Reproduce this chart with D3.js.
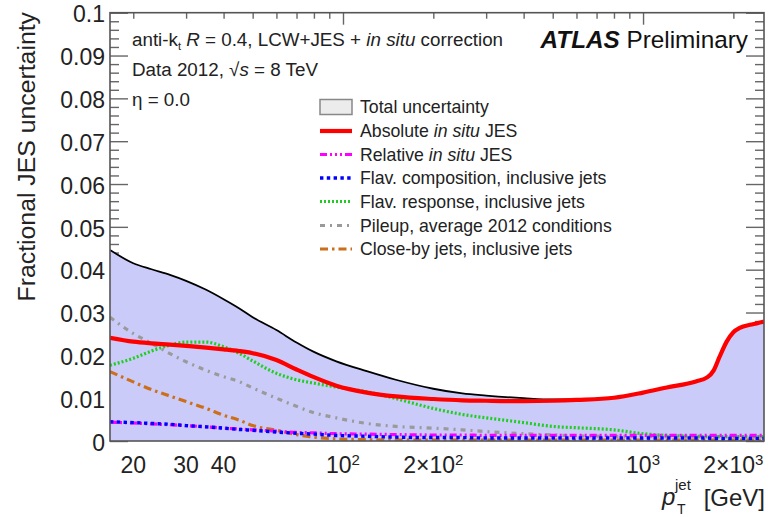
<!DOCTYPE html>
<html>
<head>
<meta charset="utf-8">
<script src="https://cdn.jsdelivr.net/npm/d3@7"></script>
<style>
  html, body { margin: 0; padding: 0; background: #fff; }
  svg { display: block; font-family: 'Liberation Sans', Arial, Helvetica, sans-serif; }
</style>
</head>
<body>
<svg id="chart" width="774" height="517"></svg>
<script>
// ---- data ----
const ptGrid = [16.73, 20, 23, 26.5, 30, 35, 40, 45, 50, 60, 70, 80, 95, 120, 150, 200, 250, 300, 400, 500, 600, 800, 1000, 1200, 1500, 1640, 1720, 1800, 1900, 2000, 2100, 2300, 2530];
const totalUnc = [0.0446, 0.0415, 0.0401, 0.0388, 0.0374, 0.0353, 0.0331, 0.0310, 0.0289, 0.0259, 0.0230, 0.0208, 0.0186, 0.0163, 0.0143, 0.0122, 0.0111, 0.0106, 0.0100, 0.0097, 0.0097, 0.0101, 0.0113, 0.0125, 0.0139, 0.0149, 0.0165, 0.0197, 0.0232, 0.0254, 0.0264, 0.0272, 0.0279];
const absoluteInSitu = [0.0241, 0.0232, 0.0228, 0.0225, 0.0222, 0.0218, 0.0214, 0.0210, 0.0205, 0.0189, 0.0167, 0.0149, 0.0129, 0.0113, 0.0104, 0.0098, 0.0095, 0.0094, 0.0093, 0.0094, 0.0096, 0.0101, 0.0113, 0.0125, 0.0139, 0.0149, 0.0165, 0.0197, 0.0232, 0.0254, 0.0264, 0.0272, 0.0279];
const relativeInSitu = [0.0044, 0.0042, 0.0040, 0.0038, 0.0036, 0.0033, 0.0030, 0.0028, 0.0026, 0.0023, 0.0020, 0.0019, 0.0017, 0.0016, 0.0015, 0.0014, 0.0014, 0.0013, 0.0013, 0.0013, 0.0013, 0.0013, 0.0013, 0.0013, 0.0013, 0.0013, 0.0013, 0.0013, 0.0013, 0.0013, 0.0013, 0.0013, 0.0013];
const flavComposition = [0.0045, 0.0043, 0.0041, 0.0039, 0.0036, 0.0033, 0.0030, 0.0027, 0.0025, 0.0021, 0.0018, 0.0016, 0.0013, 0.0011, 0.0009, 0.0008, 0.0008, 0.0007, 0.0007, 0.0007, 0.0007, 0.0007, 0.0007, 0.0007, 0.0007, 0.0007, 0.0006, 0.0006, 0.0006, 0.0006, 0.0006, 0.0006, 0.0006];
const flavResponse = [0.0177, 0.0193, 0.0210, 0.0224, 0.0231, 0.0231, 0.0220, 0.0205, 0.0187, 0.0158, 0.0143, 0.0135, 0.0126, 0.0115, 0.0099, 0.0076, 0.0062, 0.0054, 0.0043, 0.0034, 0.0031, 0.0026, 0.0017, 0.0013, 0.0011, 0.0010, 0.0010, 0.0010, 0.0010, 0.0010, 0.0010, 0.0010, 0.0010];
const pileup = [0.0289, 0.0251, 0.0228, 0.0204, 0.0185, 0.0165, 0.0150, 0.0139, 0.0124, 0.0100, 0.0081, 0.0066, 0.0054, 0.0041, 0.0034, 0.0030, 0.0026, 0.0022, 0.0017, 0.0014, 0.0012, 0.0011, 0.0011, 0.0010, 0.0010, 0.0010, 0.0010, 0.0010, 0.0010, 0.0010, 0.0010, 0.0010, 0.0010];
const closeBy = [0.0162, 0.0138, 0.0120, 0.0105, 0.0092, 0.0076, 0.0060, 0.0049, 0.0036, 0.0025, 0.0015, 0.0009, 0.0005, 0.0003, 0.0002, 0.0002, 0.0002, 0.0002, 0.0002, 0.0002, 0.0002, 0.0002, 0.0002, 0.0002, 0.0002, 0.0002, 0.0002, 0.0002, 0.0002, 0.0002, 0.0002, 0.0002, 0.0002];

const xDomain = [16.73, 2530];
const yDomain = [0, 0.1];
const yMajorTicks = [0, 0.01, 0.02, 0.03, 0.04, 0.05, 0.06, 0.07, 0.08, 0.09, 0.1];
const yTickLabels = ["0", "0.01", "0.02", "0.03", "0.04", "0.05", "0.06", "0.07", "0.08", "0.09", "0.1"];
const xMajorTicks = [100, 1000];
const xMinorTicks = [20, 30, 40, 50, 60, 70, 80, 90, 200, 300, 400, 500, 600, 700, 800, 900, 2000];
const xLabelTicks = [20, 30, 40, 100, 200, 1000, 2000];
const xLabelBase = ["20", "30", "40", "10", "2×10", "10", "2×10"];
const xLabelExp = ["", "", "", "2", "2", "3", "3"];

const legendLabels = [
  ["Total uncertainty"],
  ["Absolute ", "in situ", " JES"],
  ["Relative ", "in situ", " JES"],
  ["Flav. composition, inclusive jets"],
  ["Flav. response, inclusive jets"],
  ["Pileup, average 2012 conditions"],
  ["Close-by jets, inclusive jets"]
];

// ---- layout ----
const L = 110, R = 764, T = 12.7, B = 441;
const svg = d3.select("#chart");
const x = d3.scaleLog().domain(xDomain).range([L, R]);
const y = d3.scaleLinear().domain(yDomain).range([B, T]);
const axisColor = "#666";

const yMinor = d3.range(0, 0.1001, 0.002).filter(v => Math.abs(v / 0.01 - Math.round(v / 0.01)) > 1e-6);

// ticks (drawn first, the band covers them)
function styleAxis(g) {
  g.select(".domain").remove();
  g.selectAll(".tick line").attr("stroke", axisColor).attr("stroke-width", 1.4);
}
svg.append("g").attr("transform", `translate(${L},0)`)
  .call(d3.axisLeft(y).tickValues(yMinor).tickSize(-9).tickFormat(""))
  .call(styleAxis);
svg.append("g").attr("transform", `translate(${R},0)`)
  .call(d3.axisRight(y).tickValues(yMinor).tickSize(-9).tickFormat(""))
  .call(styleAxis);
svg.append("g").attr("transform", `translate(${R},0)`)
  .call(d3.axisRight(y).tickValues(yMajorTicks).tickSize(-18).tickFormat(""))
  .call(styleAxis);
const yAxisG = svg.append("g").attr("transform", `translate(${L},0)`)
  .call(d3.axisLeft(y).tickValues(yMajorTicks).tickSize(-18).tickPadding(5)
    .tickFormat((d, i) => yTickLabels[i]))
  .call(styleAxis);
yAxisG.selectAll(".tick text")
  .attr("font-size", 23).attr("fill", "#222")
  .attr("font-family", "'Liberation Sans', Arial, sans-serif")
  .attr("dy", "0.4em");

svg.append("g").attr("transform", `translate(0,${T})`)
  .call(d3.axisTop(x).tickValues(xMinorTicks).tickSize(-6).tickFormat(""))
  .call(styleAxis);
svg.append("g").attr("transform", `translate(0,${T})`)
  .call(d3.axisTop(x).tickValues(xMajorTicks).tickSize(-12).tickFormat(""))
  .call(styleAxis);
svg.append("g").attr("transform", `translate(0,${B})`)
  .call(d3.axisBottom(x).tickValues(xMinorTicks.concat(xMajorTicks)).tickSize(-6).tickFormat(""))
  .call(styleAxis);

// x labels
const xLab = svg.append("g");
xLabelTicks.forEach((v, i) => {
  const t = xLab.append("text")
    .attr("x", x(v)).attr("y", 473)
    .attr("text-anchor", "middle")
    .attr("font-size", 23).attr("fill", "#222");
  t.append("tspan").text(xLabelBase[i]);
  if (xLabelExp[i]) t.append("tspan").attr("dy", -8).attr("font-size", 15).text(xLabelExp[i]);
});

// ---- data series ----
svg.append("clipPath").attr("id", "plotclip")
  .append("rect").attr("x", L).attr("y", T).attr("width", R - L).attr("height", B - T);
const plot = svg.append("g").attr("clip-path", "url(#plotclip)");

const area = d3.area().x((d, i) => x(ptGrid[i])).y0(y(0)).y1(d => y(d)).curve(d3.curveMonotoneX);
const line = d3.line().x((d, i) => x(ptGrid[i])).y(d => y(d)).curve(d3.curveMonotoneX);

plot.append("path").datum(totalUnc).attr("d", area).attr("fill", "#cbcbf9").attr("stroke", "none");

const series = [
  { data: closeBy, color: "#cc6f1a", width: 3.2, dash: "8,4,2.5,4" },
  { data: pileup, color: "#9a9a9a", width: 3.2, dash: "5,5,2,5" },
  { data: flavResponse, color: "#1fcf1f", width: 3.2, dash: "2,2" },
  { data: relativeInSitu, color: "#ff00ff", width: 3.2, dash: "7,3,2,3,2,3" },
  { data: flavComposition, color: "#0000ff", width: 3.4, dash: "3.4,3.4" },
  { data: totalUnc, color: "#000", width: 1.8, dash: null },
  { data: absoluteInSitu, color: "#ff0000", width: 4.2, dash: null }
];
series.forEach(s => {
  plot.append("path").datum(s.data).attr("d", line)
    .attr("fill", "none").attr("stroke", s.color).attr("stroke-width", s.width)
    .attr("stroke-dasharray", s.dash).attr("stroke-linejoin", "round");
});

// frame
svg.append("rect").attr("x", L).attr("y", T).attr("width", R - L).attr("height", B - T)
  .attr("fill", "none").attr("stroke", "#555").attr("stroke-width", 1.6);

// ---- legend ----
const legStyles = [
  null,
  { color: "#ff0000", width: 4.2, dash: null },
  { color: "#ff00ff", width: 3.2, dash: "7,3,2,3,2,3,2,3" },
  { color: "#0000ff", width: 3.4, dash: "3.4,3.4" },
  { color: "#1fcf1f", width: 3.2, dash: "2,2" },
  { color: "#9a9a9a", width: 3.2, dash: "5,5,2,5" },
  { color: "#cc6f1a", width: 3.2, dash: "8,4,2.5,4" }
];
const legY = [107, 131, 154.5, 178, 201.5, 225.5, 249];
const leg = svg.append("g");
legendLabels.forEach((parts, i) => {
  const cy = legY[i];
  if (i === 0) {
    leg.append("rect").attr("x", 320).attr("y", cy - 7.5).attr("width", 32).attr("height", 15)
      .attr("fill", "#ececec").attr("stroke", "#888").attr("stroke-width", 1.5);
  } else {
    const s = legStyles[i];
    leg.append("line").attr("x1", 320).attr("x2", 352).attr("y1", cy).attr("y2", cy)
      .attr("stroke", s.color).attr("stroke-width", s.width).attr("stroke-dasharray", s.dash);
  }
  const t = leg.append("text").attr("x", 360).attr("y", cy + 6).attr("font-size", 17.7).attr("fill", "#222");
  parts.forEach(p => {
    const sp = t.append("tspan").text(p);
    if (p === "in situ") sp.attr("font-style", "italic");
  });
});

// ---- annotations ----
const ann = svg.append("g").attr("fill", "#222").attr("font-size", 18.8);
const a1 = ann.append("text").attr("x", 132).attr("y", 46);
a1.append("tspan").text("anti-k");
a1.append("tspan").attr("dy", 4).attr("font-size", 11).text("t");
a1.append("tspan").attr("dy", -4).text(" ");
a1.append("tspan").attr("font-style", "italic").text("R");
a1.append("tspan").text(" = 0.4, LCW+JES + ");
a1.append("tspan").attr("font-style", "italic").text("in situ");
a1.append("tspan").text(" correction");

const a2 = ann.append("text").attr("x", 132).attr("y", 76);
a2.append("tspan").text("Data 2012, √");
a2.append("tspan").attr("font-style", "italic").text("s");
a2.append("tspan").text(" = 8 TeV");

ann.append("text").attr("x", 132).attr("y", 106).text("η = 0.0");

const atl = svg.append("text").attr("x", 748).attr("y", 48).attr("text-anchor", "end")
  .attr("font-size", 24.3).attr("fill", "#111");
atl.append("tspan").attr("font-weight", "bold").attr("font-style", "italic").text("ATLAS");
atl.append("tspan").text(" Preliminary");

// axis titles
svg.append("text")
  .attr("transform", "translate(35,12) rotate(-90)")
  .attr("text-anchor", "end").attr("font-size", 24.8).attr("fill", "#222")
  .text("Fractional JES uncertainty");

svg.append("text").attr("x", 765).attr("y", 506).attr("text-anchor", "end")
  .attr("font-size", 24).attr("fill", "#222").text("[GeV]");
svg.append("text").attr("x", 662).attr("y", 505).attr("font-size", 24)
  .attr("font-style", "italic").attr("fill", "#222").text("p");
svg.append("text").attr("x", 675).attr("y", 490).attr("font-size", 15).attr("fill", "#222").text("jet");
svg.append("text").attr("x", 677).attr("y", 514).attr("font-size", 14).attr("fill", "#222").text("T");
</script>
</body>
</html>
